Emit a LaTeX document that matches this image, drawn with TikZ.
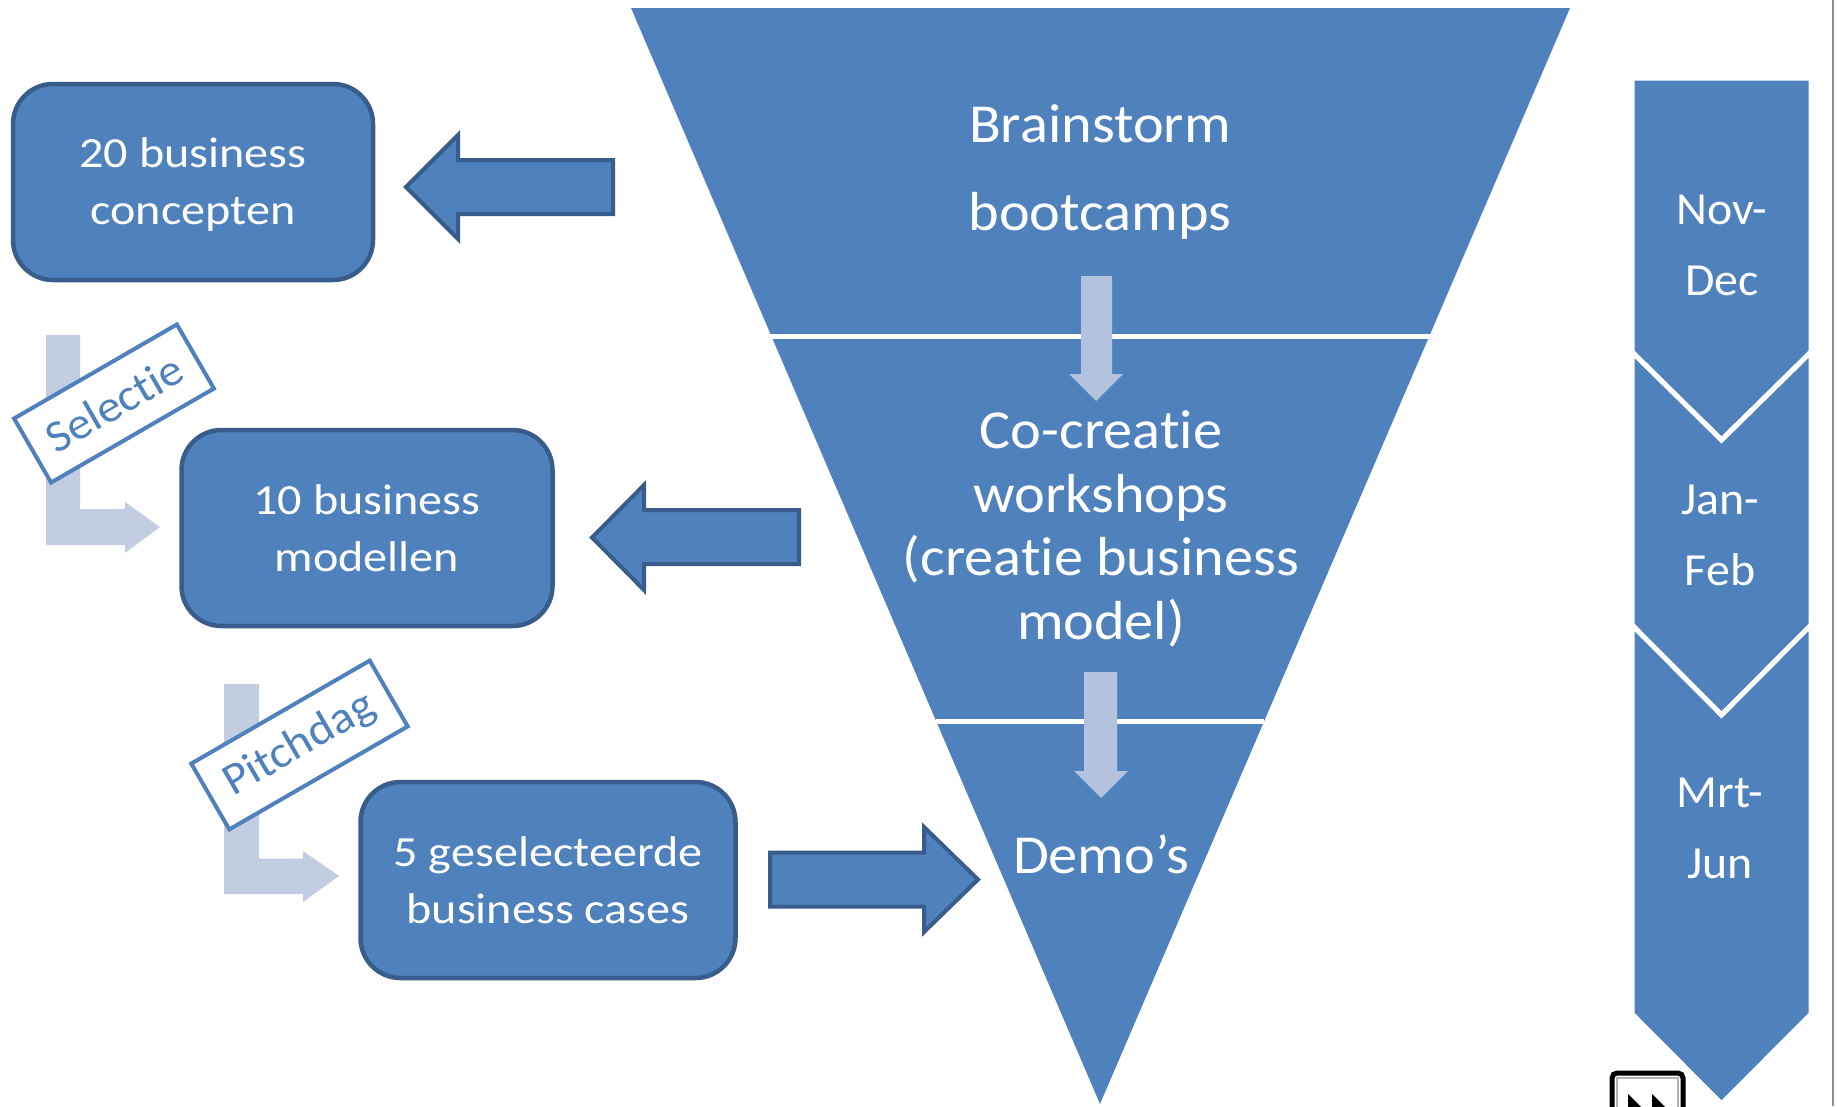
\documentclass[tikz,border=0pt]{standalone}
\usepackage{fontspec}
\setmainfont{Carlito}[Ligatures=NoCommon]
\newfontfamily\funnelfont{Carlito}[Ligatures=NoCommon, FakeStretch=1.06]
\newfontfamily\boxfont{Carlito}[Ligatures=NoCommon, FakeStretch=1.12]
\newfontfamily\chevfont{Carlito}[Ligatures=NoCommon, FakeStretch=1.04]
\newfontfamily\tagfont{Carlito}[Ligatures=NoCommon, FakeStretch=1.06]
\definecolor{mainblue}{RGB}{79,129,189}
\definecolor{darkblue}{RGB}{56,93,138}
\definecolor{lightL}{RGB}{195,205,226}
\definecolor{lightD}{RGB}{179,194,221}
\tikzset{
  box/.style={draw=darkblue, fill=mainblue, line width=4.5pt, rounded corners=40pt, inner sep=0pt},
  boxtext/.style={text=white, align=center, inner sep=0pt, font=\boxfont\fontsize{43}{57}\selectfont},
  funneltext/.style={text=white, align=center, inner sep=0pt},
  blockarrow/.style={draw=darkblue, fill=mainblue, line width=4pt, line join=miter},
  lightarrow/.style={fill=lightL},
  downarrow/.style={fill=lightD},
  tag/.style={draw=mainblue, fill=white, line width=4pt, text=mainblue, rotate=30, inner sep=0pt, font=\tagfont\fontsize{45}{50}\selectfont},
  chev/.style={fill=mainblue, draw=white, line width=5pt, line join=miter},
  chevtext/.style={text=white, align=center, inner sep=0pt, font=\chevfont\fontsize{46}{71}\selectfont},
  sep/.style={draw=white, line width=5pt}
}
\begin{document}
\begin{tikzpicture}[x=1pt,y=-1pt]
\useasboundingbox (0,0) rectangle (1837,1106);
\clip (0,0) rectangle (1837,1106);
\fill[white] (0,0) rectangle (1837,1106);

% funnel
\fill[mainblue] (631,8) -- (1570,8) -- (1100,1104) -- cycle;
\draw[sep] (771,336) -- (1430,336);
\draw[sep] (936,721) -- (1264,721);
\node[funneltext, font=\funnelfont\fontsize{55}{88}\selectfont] (brain) at (1100,172) {Brainstorm\\bootcamps};
\node[funneltext, font=\funnelfont\fontsize{55}{63.5}\selectfont] (cocreatie) at (1101,529) {Co-creatie\\workshops\\(creatie business\\model)};
\node[funneltext, font=\funnelfont\fontsize{55}{66}\selectfont, anchor=base] (demos) at (1101,873) {Demo’s};
\fill[downarrow] (1081,276) -- (1112,276) -- (1112,374) -- (1123,374) -- (1096,401) -- (1069,374) -- (1081,374) -- cycle;
\fill[downarrow] (1084,672) -- (1117,672) -- (1117,771) -- (1128,771) -- (1101,798) -- (1074,771) -- (1084,771) -- cycle;

% boxes
\node[box, minimum width=360pt, minimum height=196pt] (b20) at (193,182) {};
\node[boxtext] (t20) at (193,185) {20 business\\concepten};
\node[box, minimum width=371pt, minimum height=196pt] (b10) at (367,528) {};
\node[boxtext] (t10) at (367,528) {10 business\\modellen};
\node[box, minimum width=375pt, minimum height=196pt] (b5) at (548,880) {};
\node[boxtext] (t5) at (548,880) {5 geselecteerde\\business cases};

% block arrows
\draw[blockarrow] (613,160) -- (458,160) -- (458,135) -- (406,187) -- (458,239) -- (458,214) -- (613,214) -- cycle;
\draw[blockarrow] (799,510) -- (644,510) -- (644,485) -- (592,537.5) -- (644,590) -- (644,564) -- (799,564) -- cycle;
\draw[blockarrow] (770,852.5) -- (924,852.5) -- (924,827) -- (978,879.5) -- (924,932) -- (924,906.5) -- (770,906.5) -- cycle;

% light bent arrows
\fill[lightarrow] (46,335) -- (80,335) -- (80,509) -- (125,509) -- (125,502) -- (160,527) -- (125,553) -- (125,545) -- (46,545) -- cycle;
\fill[lightarrow] (224,684) -- (259,684) -- (259,858.5) -- (303,858.5) -- (303,851) -- (339,876) -- (303,902) -- (303,894) -- (224,894) -- cycle;

% tags
\node[tag, minimum width=188pt, minimum height=74pt] (sel) at (114,403.5) {Selectie};
\node[tag, minimum width=206pt, minimum height=76pt] (pitch) at (299.5,745) {Pitchdag};

% chevrons
\path[chev] (1632,78) -- (1811,78) -- (1811,352) -- (1721.5,440) -- (1632,352) -- cycle;
\path[chev] (1632,352) -- (1721.5,440) -- (1811,352) -- (1811,625) -- (1721.5,715) -- (1632,625) -- cycle;
\path[chev] (1632,625) -- (1721.5,715) -- (1811,625) -- (1811,1014) -- (1721.5,1104) -- (1632,1014) -- cycle;
\node[chevtext] (nov) at (1722,245) {Nov-\\Dec};
\node[chevtext] (jan) at (1720,535) {Jan-\\Feb};
\node[chevtext] (mrt) at (1720,828) {Mrt-\\Jun};

% border line and icon
\draw[black!45, line width=2pt] (1833,0) -- (1833,1106);
\draw[black, line width=5pt, rounded corners=5pt] (1612,1130) -- (1612,1073) -- (1683,1073) -- (1683,1130);
\draw[black!30, line width=1.5pt] (1617,1130) -- (1617,1078) -- (1678,1078) -- (1678,1130);
\fill[black] (1628,1094) -- (1654,1120) -- (1628,1146) -- cycle;
\fill[black] (1652,1094) -- (1678,1120) -- (1652,1146) -- cycle;
\end{tikzpicture}
\end{document}
